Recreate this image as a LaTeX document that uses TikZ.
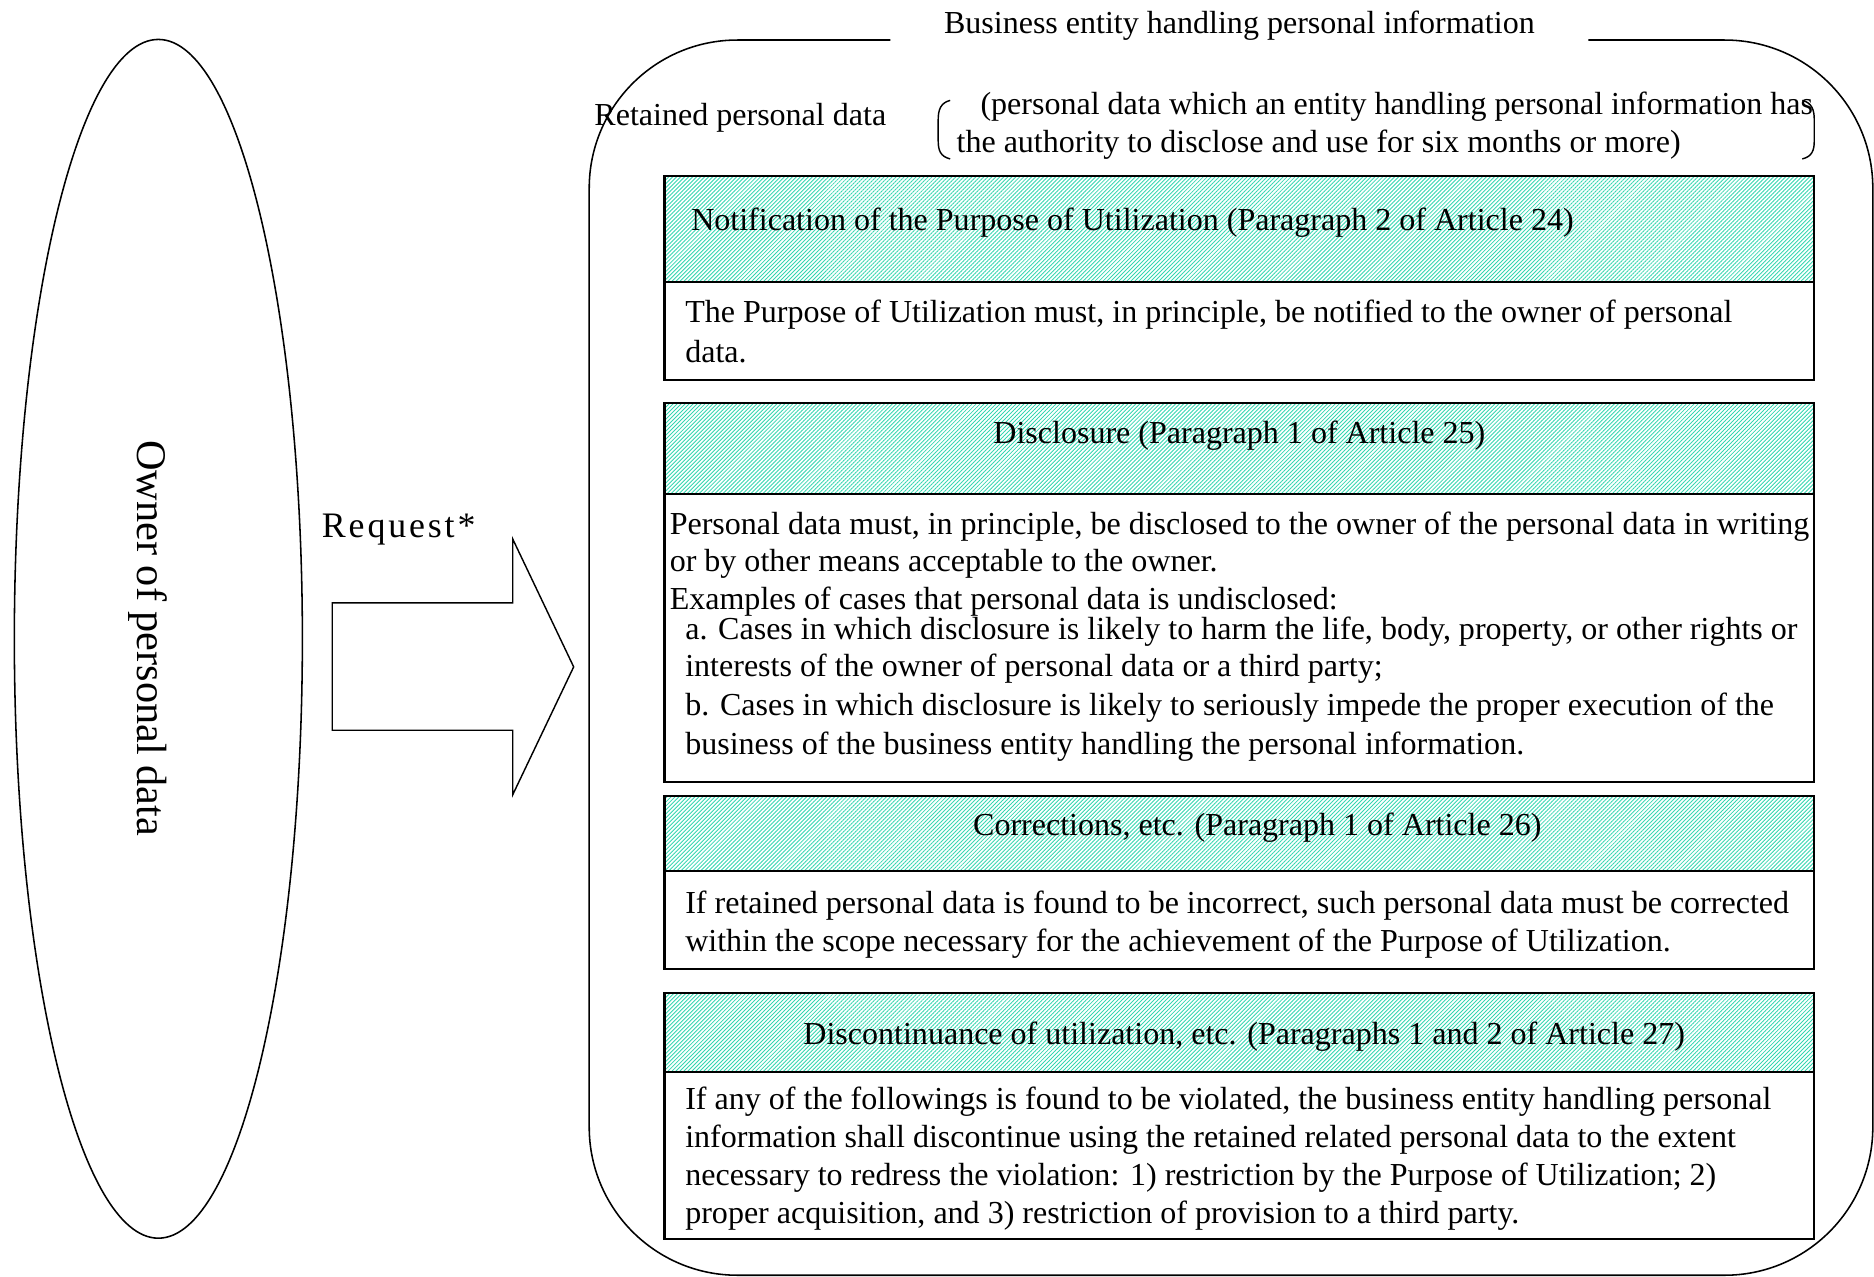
\documentclass[tikz,border=0pt]{standalone}
\usepackage{fontspec}
\setmainfont{Liberation Serif}
\usetikzlibrary{patterns.meta,fit,shapes.geometric}
\definecolor{hatchteal}{RGB}{52,214,176}
\begin{document}
\begin{tikzpicture}[x=0.5pt,y=-0.5pt,
  every node/.style={inner sep=0pt},
  txt/.style={anchor=base west, font=\fontsize{13.4}{16}\selectfont},
  ctxt/.style={anchor=base, font=\fontsize{13.4}{16}\selectfont},
  hdr/.style={draw, line width=0.85pt,
    pattern={Lines[angle=45,distance=1.18pt,line width=0.36pt]},
    pattern color=hatchteal},
  bodybox/.style={draw, line width=0.85pt, fill=white},
  outline/.style={draw, line width=0.65pt}]
\useasboundingbox (0,0) rectangle (1568,1068);

% owner of the personal data
\node[outline, ellipse, minimum width=120.5pt, minimum height=501.5pt] (owner) at (132.5,534.5) {};
\node[rotate=-90, font=\fontsize{17.7}{20}\selectfont] (ownertext) at (124,534) {Owner of personal data};

% request arrow
\node[anchor=base west, font=\fontsize{15}{18}\selectfont\addfontfeature{LetterSpace=8}] (request) at (269,450) {Request*};
\draw[line width=0.6pt, line join=miter] (278,504.5) -- (429,504.5) -- (429,451) -- (480,558)
  -- (429,665) -- (429,611) -- (278,611) -- cycle;

% business entity frame with a gap for its title
\draw[line width=0.65pt, rounded corners=62] (745,33.5) -- (493,33.5) -- (493,1067) -- (1567,1067)
  -- (1567,33.5) -- (1329,33.5);
\node[ctxt] (entity) at (1037,28) {Business entity handling personal information};

% retained personal data definition
\node[txt] (retained) at (497,105) {Retained personal data};
\node[txt] (def1) at (820,96) {(personal data which an entity handling personal information has};
\node[txt] (def2) at (800,128) {the authority to disclose and use for six months or more)};
\draw[line width=0.6pt] (795,84) .. controls (787,86) and (785,92) .. (785,100) -- (785,118)
  .. controls (785,126) and (787,131) .. (795,133);
\draw[line width=0.6pt] (1508,84) .. controls (1516,86) and (1518,92) .. (1518,100) -- (1518,118)
  .. controls (1518,126) and (1516,131) .. (1508,133);

% notification
\node[hdr, fit={(556,147)(1518,236)}] (h1) {};
\node[bodybox, fit={(556,236)(1518,318)}] (b1) {};
\node[txt] (h1t) at (578,193) {Notification of the Purpose of Utilization (Paragraph 2 of Article 24)};
\node[txt] (b1a) at (573,270) {The Purpose of Utilization must, in principle, be notified to the owner of personal};
\node[txt] (b1b) at (573,303) {data.};

% disclosure
\node[hdr, fit={(556,337)(1518,413)}] (h2) {};
\node[bodybox, fit={(556,413)(1518,654)}] (b2) {};
\node[ctxt] (h2t) at (1037,371) {Disclosure (Paragraph 1 of Article 25)};
\node[txt] (b2a) at (560,447) {Personal data must, in principle, be disclosed to the owner of the personal data in writing};
\node[txt] (b2b) at (560,478) {or by other means acceptable to the owner.};
\node[txt] (b2c) at (560,510) {Examples of cases that personal data is undisclosed:};
\node[txt] (b2d) at (573,535) {a. Cases in which disclosure is likely to harm the life, body, property, or other rights or};
\node[txt] (b2e) at (573,566) {interests of the owner of personal data or a third party;};
\node[txt] (b2f) at (573,599) {b. Cases in which disclosure is likely to seriously impede the proper execution of the};
\node[txt] (b2g) at (573,631) {business of the business entity handling the personal information.};

% corrections
\node[hdr, fit={(556,666)(1518,729)}] (h3) {};
\node[bodybox, fit={(556,729)(1518,811)}] (b3) {};
\node[ctxt] (h3t) at (1052,699) {Corrections, etc. (Paragraph 1 of Article 26)};
\node[txt] (b3a) at (573,764) {If retained personal data is found to be incorrect, such personal data must be corrected};
\node[txt] (b3b) at (573,796) {within the scope necessary for the achievement of the Purpose of Utilization.};

% discontinuance
\node[hdr, fit={(556,831)(1518,897)}] (h4) {};
\node[bodybox, fit={(556,897)(1518,1037)}] (b4) {};
\node[ctxt] (h4t) at (1041,874) {Discontinuance of utilization, etc. (Paragraphs 1 and 2 of Article 27)};
\node[txt] (b4a) at (573,928) {If any of the followings is found to be violated, the business entity handling personal};
\node[txt] (b4b) at (573,960) {information shall discontinue using the retained related personal data to the extent};
\node[txt] (b4c) at (573,992) {necessary to redress the violation: 1) restriction by the Purpose of Utilization; 2)};
\node[txt] (b4d) at (573,1024) {proper acquisition, and 3) restriction of provision to a third party.};
\end{tikzpicture}
\end{document}
